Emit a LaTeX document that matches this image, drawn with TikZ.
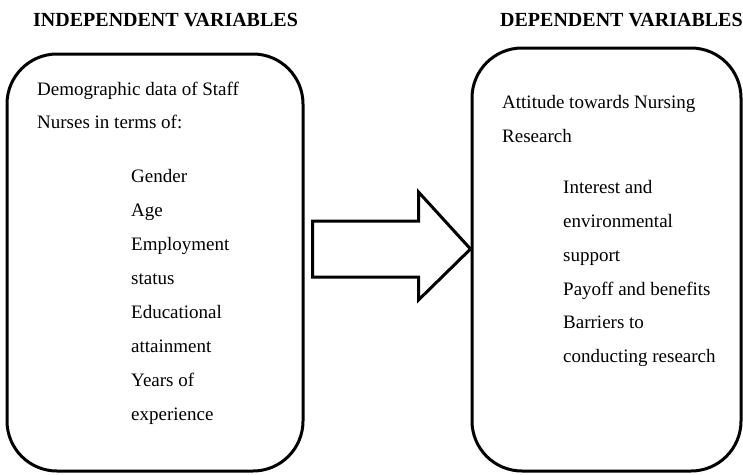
\documentclass[tikz,border=0pt]{standalone}
\usepackage{fontspec}
\setmainfont{Liberation Serif}
\usetikzlibrary{calc}
\begin{document}
\begin{tikzpicture}[x=1pt,y=-1pt,
  varbox/.style={draw=black, line width=3pt, rounded corners=50pt, inner sep=0pt},
  heading/.style={anchor=base west, inner sep=0pt, font=\fontsize{20}{20}\selectfont\bfseries},
  body/.style={anchor=base west, inner sep=0pt, font=\rmfamily\fontsize{19}{19}\selectfont},
  blockarrow/.style={draw=black, line width=3pt, fill=white, line join=miter}]
\useasboundingbox (0,0) rectangle (743,474);

% headings
\node[heading] (hind) at (33,26) {INDEPENDENT VARIABLES};
\node[heading] (hdep) at (500,26) {DEPENDENT VARIABLES};

% the two variable boxes
\node[varbox, minimum width=296pt, minimum height=417pt] (ind) at (155,262.5) {};
\node[varbox, minimum width=269pt, minimum height=423pt] (dep) at (606.5,259.5) {};

% block arrow from the independent to the dependent box
\coordinate (tip) at (dep.west |- 0,249);
\coordinate (tail) at ($(ind.east |- tip)+(8,0)$);
\draw[blockarrow] ($(tail)+(0,-28)$) -- ($(tip)+(-52,-28)$) -- ($(tip)+(-52,-57)$)
  -- (tip) -- ($(tip)+(-52,51)$) -- ($(tip)+(-52,28)$) -- ($(tail)+(0,28)$) -- cycle;

% independent variables
\node[body] (i1) at (37,95) {Demographic data of Staff};
\node[body] (i2) at (37,128) {Nurses in terms of:};
\node[body] (i3) at (131,182) {Gender};
\node[body] (i4) at (131,216) {Age};
\node[body] (i5) at (131,250) {Employment};
\node[body] (i6) at (131,284) {status};
\node[body] (i7) at (131,318) {Educational};
\node[body] (i8) at (131,352) {attainment};
\node[body] (i9) at (131,386) {Years of};
\node[body] (i10) at (131,420) {experience};

% dependent variables
\node[body] (d1) at (502,108) {Attitude towards Nursing};
\node[body] (d2) at (502,142) {Research};
\node[body] (d3) at (563,193) {Interest and};
\node[body] (d4) at (563,227) {environmental};
\node[body] (d5) at (563,261) {support};
\node[body] (d6) at (563,295) {Payoff and benefits};
\node[body] (d7) at (563,328) {Barriers to};
\node[body] (d8) at (563,362) {conducting research};
\end{tikzpicture}
\end{document}
